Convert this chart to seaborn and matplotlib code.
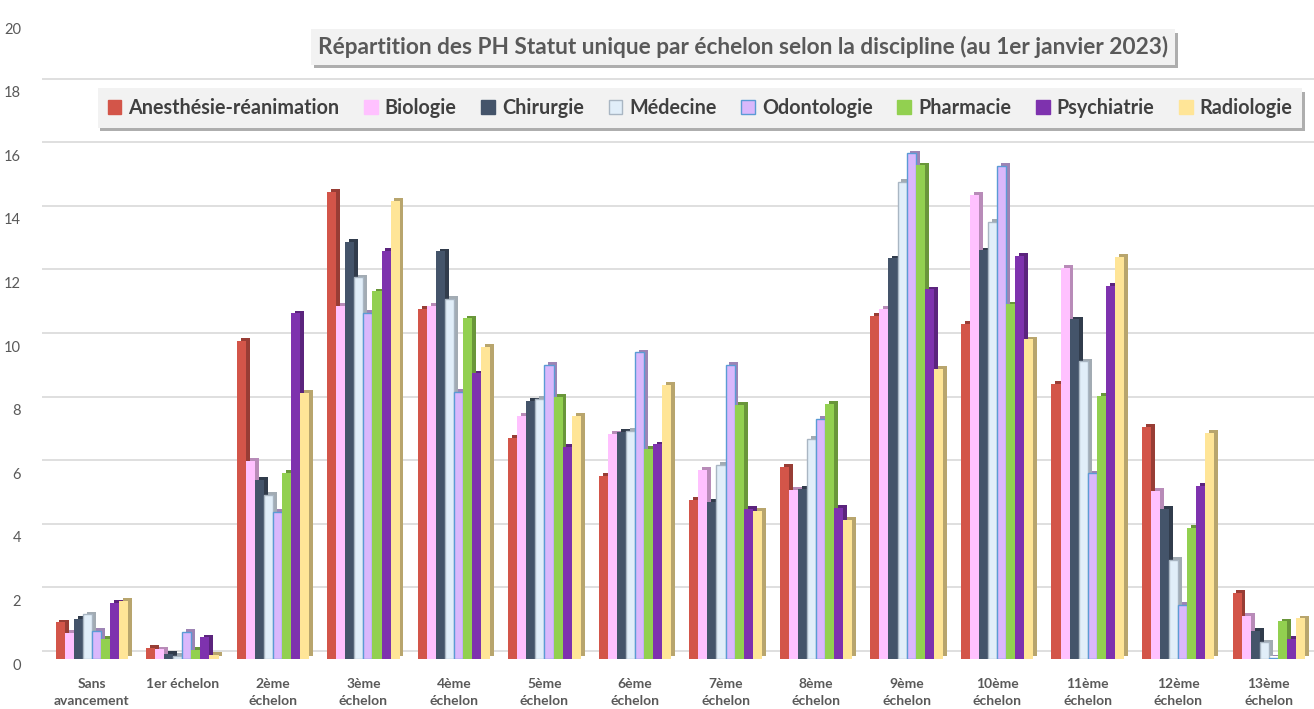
import pandas as pd
import seaborn as sns
import matplotlib
matplotlib.use("Agg")
import matplotlib.pyplot as plt
import matplotlib.patheffects as pe
import matplotlib.colors as mcolors
from matplotlib.patches import Patch
from matplotlib.transforms import ScaledTranslation

### Data (% of PH per échelon)
echelons = ["Sans\navancement", "1er échelon", "2ème\néchelon", "3ème\néchelon",
            "4ème\néchelon", "5ème\néchelon", "6ème\néchelon", "7ème\néchelon",
            "8ème\néchelon", "9ème\néchelon", "10ème\néchelon", "11ème\néchelon",
            "12ème\néchelon", "13ème\néchelon"]
disciplines = ["Anesthésie-réanimation", "Biologie", "Chirurgie", "Médecine",
               "Odontologie", "Pharmacie", "Psychiatrie", "Radiologie"]

anesth = [1.15, 0.35, 10.0, 14.7, 11.0, 6.95, 5.75, 5.0, 6.05, 10.8, 10.55, 8.65, 7.3, 2.07]
bio = [0.82, 0.3, 6.23, 11.1, 11.1, 7.65, 7.07, 5.95, 5.32, 11.0, 14.6, 12.3, 5.28, 1.35]
chir = [1.25, 0.15, 5.63, 13.12, 12.82, 8.12, 7.14, 4.95, 5.35, 12.6, 12.85, 10.68, 4.72, 0.88]
med = [1.4, 0.1, 5.16, 12.0, 11.33, 8.17, 7.18, 6.1, 6.92, 15.0, 13.75, 9.36, 3.12, 0.52]
odonto = [0.88, 0.86, 4.63, 10.89, 8.41, 9.24, 9.64, 9.25, 7.56, 15.9, 15.5, 5.84, 1.7, 0.03]
pharma = [0.64, 0.28, 5.86, 11.56, 10.71, 8.25, 6.6, 7.99, 8.02, 15.52, 11.15, 8.28, 4.13, 1.18]
psych = [1.77, 0.68, 10.87, 12.84, 8.98, 6.68, 6.75, 4.71, 4.74, 11.62, 12.68, 11.74, 5.45, 0.63]
radio = [1.83, 0.13, 8.37, 14.41, 9.82, 7.65, 8.62, 4.66, 4.37, 9.13, 10.05, 12.65, 7.12, 1.28]

series = [anesth, bio, chir, med, odonto, pharma, psych, radio]

colors = ["#D35549", "#FFC1FF", "#44546A", "#E1EEF9",
          "#DAB8FC", "#92D050", "#7E32AE", "#FFE597"]
edges = [None, None, None, "#A9B6C3", "#5B9BD5", None, None, None]

# long format for seaborn
rows = []
for disc, vals in zip(disciplines, series):
    for ech, v in zip(echelons, vals):
        rows.append({"echelon": ech, "discipline": disc, "pct": v})
df = pd.DataFrame(rows)

sns.set_theme(style="white")
plt.rcParams["font.family"] = ["Lato", "DejaVu Sans"]

W, H = 1314, 709
fig = plt.figure(figsize=(W / 100, H / 100), dpi=100)
ax = fig.add_axes([42 / W, 1 - 659 / H, (W - 42) / W, 636 / H])

sns.barplot(data=df, x="echelon", y="pct", hue="discipline",
            order=echelons, hue_order=disciplines,
            palette=dict(zip(disciplines, colors)),
            width=0.8, saturation=1, legend=False, ax=ax, zorder=3)

# fake 3D look: darker shadow on right/top of each bar
for cont, col, ec in zip(ax.containers, colors, edges):
    dark = [c * 0.72 for c in mcolors.to_rgb(col)]
    for bar in cont:
        bar.set_linewidth(0)
        if ec is not None:
            bar.set_edgecolor(ec)
            bar.set_linewidth(1.0)
        bar.set_path_effects([
            pe.SimplePatchShadow(offset=(2.8, 2.0), shadow_rgbFace=dark, alpha=1),
            pe.Normal()])

ax.set_ylim(0, 20)
ax.set_yticks(range(0, 21, 2))
ax.set_xlim(-0.55, 13.5)
ax.set_xlabel("")
ax.set_ylabel("")

ax.yaxis.grid(True, color="#D9D9D9", linewidth=1.2)
ax.xaxis.grid(False)
# back-wall gridlines sit a little higher than the bar fronts
for gl in ax.get_ygridlines():
    gl.set_transform(gl.get_transform() + ScaledTranslation(0, 8 / 100, fig.dpi_scale_trans))
for s in ax.spines.values():
    s.set_visible(False)

ax.tick_params(axis="y", length=0, pad=15, labelsize=10.5, labelcolor="#595959")
ax.tick_params(axis="x", length=0, pad=14, labelsize=10, labelcolor="#595959")
for lab in ax.get_yticklabels():
    lab.set_transform(lab.get_transform() + ScaledTranslation(0, -5 / 100, fig.dpi_scale_trans))
for lab in ax.get_xticklabels():
    lab.set_fontweight("bold")
    lab.set_linespacing(1.45)

# title in a shaded box
t = fig.text(743 / W, 1 - 47 / H,
             "Répartition des PH Statut unique par échelon selon la discipline (au 1er janvier 2023)",
             ha="center", va="center", fontsize=16.3, fontweight="bold", color="#595959",
             bbox=dict(boxstyle="square,pad=0.3", fc="#F2F2F2", ec="none"))
t.get_bbox_patch().set_path_effects([
    pe.SimplePatchShadow(offset=(2, -2.5), shadow_rgbFace="#8C8C8C", alpha=0.7),
    pe.Normal()])

# legend
handles = [Patch(facecolor=c, edgecolor=(e if e else c), linewidth=1)
           for c, e in zip(colors, edges)]
leg = ax.legend(handles, disciplines, ncol=8, loc="center",
                bbox_to_anchor=(700 / W, 1 - 108 / H), bbox_transform=fig.transFigure,
                frameon=True, fancybox=False, facecolor="#F2F2F2", edgecolor="none",
                framealpha=1, fontsize=14.2, handlelength=0.7, handleheight=0.7,
                handletextpad=0.35, columnspacing=1.25, borderpad=0.5)
for txt in leg.get_texts():
    txt.set_color("#404040")
    txt.set_fontweight("bold")
leg.get_frame().set_path_effects([
    pe.SimplePatchShadow(offset=(2, -2.5), shadow_rgbFace="#8C8C8C", alpha=0.7),
    pe.Normal()])

fig.savefig("out.png", dpi=100, facecolor="white")
